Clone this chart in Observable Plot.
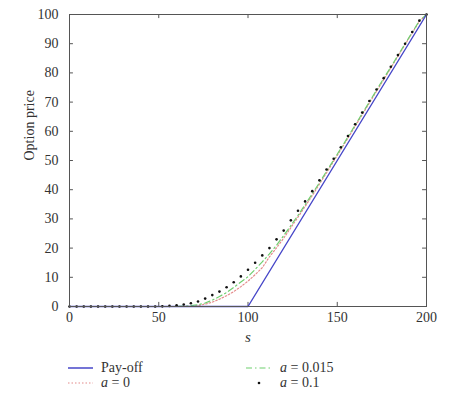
<!DOCTYPE html>
<html><head><meta charset="utf-8">
<script src="https://cdn.jsdelivr.net/npm/d3@7"></script>
<script src="https://cdn.jsdelivr.net/npm/@observablehq/plot@0.6"></script>
<style>
body{margin:0;background:#fff;font-family:"Liberation Serif",serif;}
#wrap{position:relative;width:450px;height:399px;}
.lg{position:absolute;font-size:14px;color:#333;line-height:13px;height:13px;white-space:nowrap;}
.lg i{font-style:italic;}
.sw{position:absolute;line-height:0;}
.sw svg{display:block;}
</style></head>
<body><div id="wrap"><div id="chart"></div></div>
<script>
// data
const sGrid = [0,4,8,12,16,20,24,28,32,36,40,44,48,52,56,60,64,68,72,76,80,84,88,92,96,100,104,108,112,116,120,124,128,132,136,140,144,148,152,156,160,164,168,172,176,180,184,188,192,196,200];
const priceA01 = [0,0,0,0,0,0,0,0,0,0,0,0,0,0.05,0.2,0.4,0.7,1.1,1.7,2.7,3.9,5.1,6.6,8.3,10.3,12.6,15.0,17.5,20.0,23.0,26.0,29.5,32.8,36.0,39.5,43.2,46.9,50.6,54.5,58.4,62.4,66.4,70.4,74.3,78.2,82.1,86.1,90.0,94.0,97.9,100];
const priceA0015 = [0,0,0,0,0,0,0,0,0,0,0,0,0,0,0,0,0.1,0.3,0.6,1.2,2.2,3.4,4.8,6.5,8.4,10.2,12.7,15.3,18.0,21.0,24.3,27.7,31.2,34.9,38.6,42.4,46.3,50.2,54.1,58.1,62.1,66.1,70.1,74.1,78.1,82.0,86.0,90.0,93.9,97.8,100];
const priceA0 = [0,0,0,0,0,0,0,0,0,0,0,0,0,0,0,0,0,0.1,0.3,0.8,1.5,2.5,3.7,5.1,6.8,8.7,10.9,13.3,17.0,20.1,23.4,27.0,30.6,34.3,38.0,41.9,45.8,49.8,53.7,57.7,61.7,65.7,69.7,73.7,77.7,81.7,85.7,89.7,93.7,97.7,100];
const payoffS = [0,100,200];
const payoffV = [0,0,100];
const xTicks = [0,50,100,150,200];
const yTicks = [0,10,20,30,40,50,60,70,80,90,100];

const blue = "#4646c8", green = "#6fcf6f", pink = "#e48a8a";
const curve = (v) => sGrid.map((s,i)=>({s, v:v[i]}));
const pay = payoffS.map((s,i)=>({s, v:payoffV[i]}));
const tickCol = "#555";

const chart = Plot.plot({
  width: 450, height: 350,
  marginLeft: 69, marginRight: 24, marginTop: 14, marginBottom: 44,
  style: {fontFamily: "Liberation Serif, serif", fontSize: "14px", color: "#333", background: "#fff"},
  x: {domain: [0,200]},
  y: {domain: [0,100]},
  marks: [
    Plot.axisX(xTicks, {tickSize: 0, tickPadding: 6, label: null, fontSize: 14}),
    Plot.axisY(yTicks, {tickSize: 0, tickPadding: 11, label: null, fontSize: 14}),
    // inward ticks on all four sides
    Plot.ruleX(xTicks, {x: d=>d, y1: 0, y2: 1.4, stroke: tickCol}),
    Plot.ruleX(xTicks, {x: d=>d, y1: 100, y2: 98.6, stroke: tickCol}),
    Plot.ruleY(yTicks, {y: d=>d, x1: 0, x2: 2.2, stroke: tickCol}),
    Plot.ruleY(yTicks, {y: d=>d, x1: 200, x2: 197.8, stroke: tickCol}),
    Plot.line(curve(priceA0), {x:"s", y:"v", stroke: pink, strokeWidth: 1.2, strokeDasharray: "1.5,2"}),
    Plot.line(curve(priceA0015), {x:"s", y:"v", stroke: green, strokeWidth: 1.2, strokeDasharray: "6,3,1.5,3"}),
    Plot.line(pay, {x:"s", y:"v", stroke: blue, strokeWidth: 1.4}),
    Plot.dot(curve(priceA01), {x:"s", y:"v", r: 1.3, fill: "#111", stroke: null}),
    Plot.frame({stroke: tickCol, strokeWidth: 1}),
    Plot.text(["s"], {frameAnchor: "bottom", dy: 35, text: d=>d, fontStyle: "italic", fontSize: 15}),
    Plot.text(["Option price"], {frameAnchor: "left", dx: -40, rotate: -90, text: d=>d, fontSize: 14})
  ]
});
document.getElementById("chart").appendChild(chart);

// legend (HTML below the SVG)
const wrap = document.getElementById("wrap");
function sw(x, y, svgInner){
  const d = document.createElement("div");
  d.className = "sw"; d.style.left = x+"px"; d.style.top = (y-5)+"px";
  d.innerHTML = `<svg width="26" height="10">${svgInner}</svg>`;
  wrap.appendChild(d);
}
function lab(x, y, html){
  const d = document.createElement("div");
  d.className = "lg"; d.style.left = x+"px"; d.style.top = (y-7)+"px";
  d.innerHTML = html; wrap.appendChild(d);
}
sw(68, 368, `<line x1="0" x2="25" y1="5" y2="5" stroke="${blue}" stroke-width="1.5"/>`);
lab(101, 368, "Pay-off");
sw(68, 383, `<line x1="0" x2="25" y1="5" y2="5" stroke="${pink}" stroke-width="1.2" stroke-dasharray="1.5,2"/>`);
lab(101, 383, "<i>a</i> = 0");
sw(246, 368, `<line x1="0" x2="25" y1="5" y2="5" stroke="${green}" stroke-width="1.2" stroke-dasharray="6,3,1.5,3"/>`);
lab(280, 368, "<i>a</i> = 0.015");
sw(246, 383, `<circle cx="13" cy="5" r="1.3" fill="#111"/>`);
lab(280, 383, "<i>a</i> = 0.1");
</script></body></html>
